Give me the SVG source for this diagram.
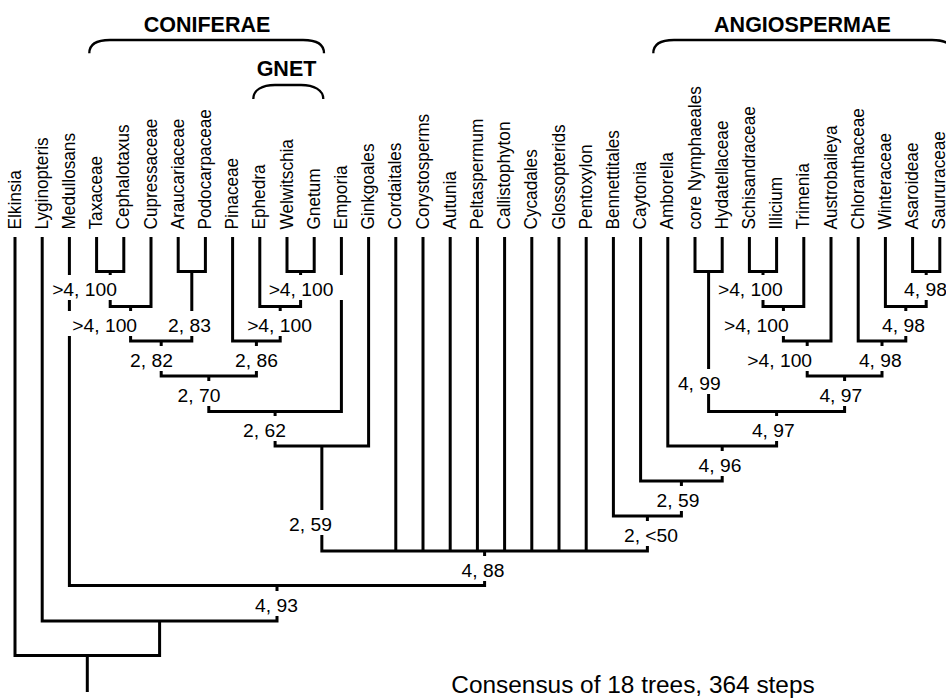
<svg xmlns="http://www.w3.org/2000/svg" width="946" height="698" viewBox="0 0 946 698">
<style>
.ln{fill:none;stroke:#000;stroke-width:3;stroke-linejoin:miter}
.br{fill:none;stroke:#000;stroke-width:2.3}
text{font-family:"Liberation Sans",Arial,Helvetica,sans-serif;fill:#000}
.tip{font-size:17.2px}
.lbl{font-size:18px;text-anchor:middle}
.bg{fill:#fff}
.ttl{font-size:21.5px;font-weight:bold;text-anchor:middle}
.cap{font-size:24.4px;text-anchor:middle}
</style>
<rect width="946" height="698" fill="#fff"/>

<g id="connectors">
<path class="ln" d="M96.6 237V271.5H123.8V237"/>
<path class="ln" d="M110.2 271.5V306.5H151V237"/>
<path class="ln" d="M178.2 237V271.5H205.4V237"/>
<path class="ln" d="M130.6 306.5V341H191.8V271.5"/>
<path class="ln" d="M287 237V271.5H314.2V237"/>
<path class="ln" d="M259.8 237V306.5H300.6V271.5"/>
<path class="ln" d="M232.6 237V341H280.2V306.5"/>
<path class="ln" d="M161.2 341V376H256.4V341"/>
<path class="ln" d="M208.8 376V411.5H341.4V237"/>
<path class="ln" d="M275.1 411.5V446H368.6V237"/>
<path class="ln" d="M321.85 446V551H647.4V516"/>
<path class="ln" d="M395.8 237V551M423 237V551M450.2 237V551M477.4 237V551M504.6 237V551M531.8 237V551M559 237V551M586.2 237V551"/>
<path class="ln" d="M695 237V271.5H722.2V237"/>
<path class="ln" d="M749.4 237V271.5H776.6V237"/>
<path class="ln" d="M763 271.5V306.5H803.8V237"/>
<path class="ln" d="M783.4 306.5V341H831V237"/>
<path class="ln" d="M912.6 237V271.5H939.8V237"/>
<path class="ln" d="M885.4 237V306.5H926.2V271.5"/>
<path class="ln" d="M858.2 237V341H905.8V306.5"/>
<path class="ln" d="M807.2 341V376H882V341"/>
<path class="ln" d="M708.6 271.5V411.5H844.6V376"/>
<path class="ln" d="M667.8 237V446H776.6V411.5"/>
<path class="ln" d="M640.6 237V481H722.2V446"/>
<path class="ln" d="M613.4 237V516H681.4V481"/>
<path class="ln" d="M69.4 237V585.5H484.6V551"/>
<path class="ln" d="M42.2 237V621H277V585.5"/>
<path class="ln" d="M15 237V655.5H159.6V621"/>
<path class="ln" d="M87.3 655.5V692"/>
</g>

<g id="brace-coniferae">
<path class="br" d="M89.3 53.3C89.3 45 96 40 110 40H303C317 40 324 45 324 53.3"/>
<text class="ttl" x="207" y="32">CONIFERAE</text>
</g>
<g id="brace-gnet">
<path class="br" d="M253.3 99C253.3 90 262 85 275 85H301C314 85 323.3 90 323.3 99"/>
<text class="ttl" x="286.5" y="76">GNET</text>
</g>
<g id="brace-angiospermae">
<path class="br" d="M653.3 53.3C653.3 45 660 40 674 40H932C946 40 953 45 953 53.3"/>
<text class="ttl" x="802.5" y="32">ANGIOSPERMAE</text>
</g>

<g id="tips" class="tip">
<g id="t0"><text transform="translate(20.5 229.5) scale(1.05 1) rotate(-90)">Elkinsia</text></g>
<g id="t1"><text transform="translate(47.7 229.5) scale(1.05 1) rotate(-90)">Lyginopteris</text></g>
<g id="t2"><text transform="translate(74.9 229.5) scale(1.05 1) rotate(-90)">Medullosans</text></g>
<g id="t3"><text transform="translate(102.1 229.5) scale(1.05 1) rotate(-90)">Taxaceae</text></g>
<g id="t4"><text transform="translate(129.3 229.5) scale(1.05 1) rotate(-90)">Cephalotaxus</text></g>
<g id="t5"><text transform="translate(156.5 229.5) scale(1.05 1) rotate(-90)">Cupressaceae</text></g>
<g id="t6"><text transform="translate(183.7 229.5) scale(1.05 1) rotate(-90)">Araucariaceae</text></g>
<g id="t7"><text transform="translate(210.9 229.5) scale(1.05 1) rotate(-90)">Podocarpaceae</text></g>
<g id="t8"><text transform="translate(238.1 229.5) scale(1.05 1) rotate(-90)">Pinaceae</text></g>
<g id="t9"><text transform="translate(265.3 229.5) scale(1.05 1) rotate(-90)">Ephedra</text></g>
<g id="t10"><text transform="translate(292.5 229.5) scale(1.05 1) rotate(-90)">Welwitschia</text></g>
<g id="t11"><text transform="translate(319.7 229.5) scale(1.05 1) rotate(-90)">Gnetum</text></g>
<g id="t12"><text transform="translate(346.9 229.5) scale(1.05 1) rotate(-90)">Emporia</text></g>
<g id="t13"><text transform="translate(374.1 229.5) scale(1.05 1) rotate(-90)">Ginkgoales</text></g>
<g id="t14"><text transform="translate(401.3 229.5) scale(1.05 1) rotate(-90)">Cordaitales</text></g>
<g id="t15"><text transform="translate(428.5 229.5) scale(1.05 1) rotate(-90)">Corystosperms</text></g>
<g id="t16"><text transform="translate(455.7 229.5) scale(1.05 1) rotate(-90)">Autunia</text></g>
<g id="t17"><text transform="translate(482.9 229.5) scale(1.05 1) rotate(-90)">Peltaspermum</text></g>
<g id="t18"><text transform="translate(510.1 229.5) scale(1.05 1) rotate(-90)">Callistophyton</text></g>
<g id="t19"><text transform="translate(537.3 229.5) scale(1.05 1) rotate(-90)">Cycadales</text></g>
<g id="t20"><text transform="translate(564.5 229.5) scale(1.05 1) rotate(-90)">Glossopterids</text></g>
<g id="t21"><text transform="translate(591.7 229.5) scale(1.05 1) rotate(-90)">Pentoxylon</text></g>
<g id="t22"><text transform="translate(618.9 229.5) scale(1.05 1) rotate(-90)">Bennettitales</text></g>
<g id="t23"><text transform="translate(646.1 229.5) scale(1.05 1) rotate(-90)">Caytonia</text></g>
<g id="t24"><text transform="translate(673.3 229.5) scale(1.05 1) rotate(-90)">Amborella</text></g>
<g id="t25"><text transform="translate(700.5 229.5) scale(1.05 1) rotate(-90)">core Nymphaeales</text></g>
<g id="t26"><text transform="translate(727.7 229.5) scale(1.05 1) rotate(-90)">Hydatellaceae</text></g>
<g id="t27"><text transform="translate(754.9 229.5) scale(1.05 1) rotate(-90)">Schisandraceae</text></g>
<g id="t28"><text transform="translate(782.1 229.5) scale(1.05 1) rotate(-90)">Illicium</text></g>
<g id="t29"><text transform="translate(809.3 229.5) scale(1.05 1) rotate(-90)">Trimenia</text></g>
<g id="t30"><text transform="translate(836.5 229.5) scale(1.05 1) rotate(-90)">Austrobaileya</text></g>
<g id="t31"><text transform="translate(863.7 229.5) scale(1.05 1) rotate(-90)">Chloranthaceae</text></g>
<g id="t32"><text transform="translate(890.9 229.5) scale(1.05 1) rotate(-90)">Winteraceae</text></g>
<g id="t33"><text transform="translate(918.1 229.5) scale(1.05 1) rotate(-90)">Asaroideae</text></g>
<g id="t34"><text transform="translate(945.3 229.5) scale(1.05 1) rotate(-90)">Saururaceae</text></g>
</g>

<g id="nodes" class="lbl">
<g id="nA"><rect class="bg" x="46" y="275" width="81" height="25"/><text transform="translate(84.5 296) scale(1.07 1)">&gt;4, 100</text></g>
<g id="nB"><rect class="bg" x="66.2" y="311" width="81" height="25"/><text transform="translate(104.7 332) scale(1.07 1)">&gt;4, 100</text></g>
<g id="nC"><rect class="bg" x="162" y="311" width="59" height="25"/><text transform="translate(189.5 332) scale(1.07 1)">2, 83</text></g>
<g id="nD"><rect class="bg" x="124" y="346" width="59" height="25"/><text transform="translate(151.5 367) scale(1.07 1)">2, 82</text></g>
<g id="nE"><rect class="bg" x="262.5" y="275" width="81" height="25"/><text transform="translate(301 296) scale(1.07 1)">&gt;4, 100</text></g>
<g id="nF"><rect class="bg" x="241" y="311" width="81" height="25"/><text transform="translate(279.5 332) scale(1.07 1)">&gt;4, 100</text></g>
<g id="nG"><rect class="bg" x="229" y="346" width="59" height="25"/><text transform="translate(256.5 367) scale(1.07 1)">2, 86</text></g>
<g id="nH"><rect class="bg" x="171.5" y="381" width="59" height="25"/><text transform="translate(199 402) scale(1.07 1)">2, 70</text></g>
<g id="nI"><rect class="bg" x="237" y="416" width="59" height="25"/><text transform="translate(264.5 437) scale(1.07 1)">2, 62</text></g>
<g id="nJ"><rect class="bg" x="283" y="510" width="59" height="25"/><text transform="translate(310.5 531) scale(1.07 1)">2, 59</text></g>
<g id="nX"><rect class="bg" x="455.5" y="556" width="59" height="25"/><text transform="translate(483 577) scale(1.07 1)">4, 88</text></g>
<g id="nY"><rect class="bg" x="249" y="591" width="59" height="25"/><text transform="translate(276.5 612) scale(1.07 1)">4, 93</text></g>
<g id="nW"><rect class="bg" x="618" y="521" width="70" height="25"/><text transform="translate(651 542) scale(1.07 1)">2, &lt;50</text></g>
<g id="nV"><rect class="bg" x="650.5" y="486" width="59" height="25"/><text transform="translate(678 507) scale(1.07 1)">2, 59</text></g>
<g id="nU"><rect class="bg" x="692.5" y="451" width="59" height="25"/><text transform="translate(720 472) scale(1.07 1)">4, 96</text></g>
<g id="nS"><rect class="bg" x="745.8" y="416" width="59" height="25"/><text transform="translate(773.3 437) scale(1.07 1)">4, 97</text></g>
<g id="nK"><rect class="bg" x="671.8" y="369" width="59" height="25"/><text transform="translate(699.3 390) scale(1.07 1)">4, 99</text></g>
<g id="nR"><rect class="bg" x="813.3" y="381" width="59" height="25"/><text transform="translate(840.8 402) scale(1.07 1)">4, 97</text></g>
<g id="nN"><rect class="bg" x="741.2" y="346" width="81" height="25"/><text transform="translate(779.7 367) scale(1.07 1)">&gt;4, 100</text></g>
<g id="nQ"><rect class="bg" x="852.8" y="346" width="59" height="25"/><text transform="translate(880.3 367) scale(1.07 1)">4, 98</text></g>
<g id="nM"><rect class="bg" x="717.8" y="311" width="81" height="25"/><text transform="translate(756.3 332) scale(1.07 1)">&gt;4, 100</text></g>
<g id="nL"><rect class="bg" x="711.8" y="275" width="81" height="25"/><text transform="translate(750.3 296) scale(1.07 1)">&gt;4, 100</text></g>
<g id="nO"><rect class="bg" x="898" y="275" width="59" height="25"/><text transform="translate(925.5 296) scale(1.07 1)">4, 98</text></g>
<g id="nP"><rect class="bg" x="876" y="311" width="59" height="25"/><text transform="translate(903.5 332) scale(1.07 1)">4, 98</text></g>
</g>

<text class="cap" x="633" y="693">Consensus of 18 trees, 364 steps</text>
</svg>
